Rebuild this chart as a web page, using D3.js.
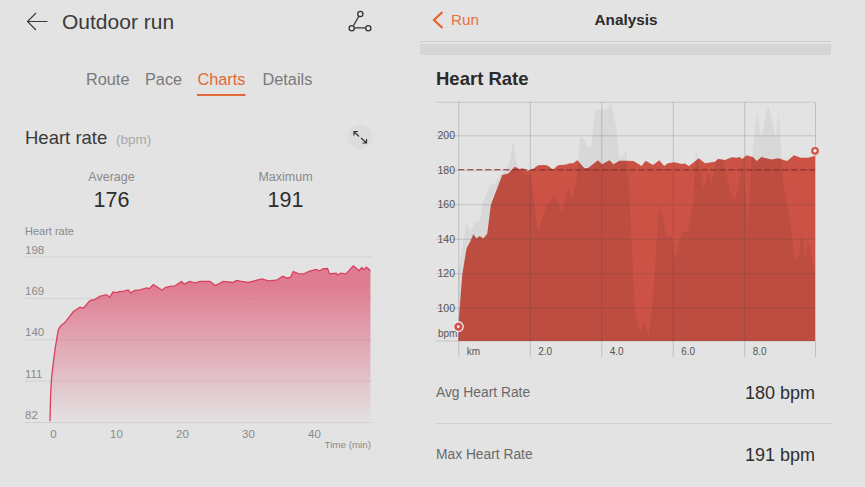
<!DOCTYPE html>
<html>
<head>
<meta charset="utf-8">
<script src="https://cdn.jsdelivr.net/npm/d3@7"></script>
<style>
  html, body { margin: 0; padding: 0; background: #e3e3e3; overflow: hidden; }
  svg { display: block; font-family: "Liberation Sans", Arial, sans-serif; }
  .domain { display: none; }
</style>
</head>
<body>
<div id="chart"></div>
<script>
// left chart: heart rate over time
const timeMin = [0,0.1,0.25,0.75,1.25,1.6,2.25,2.75,3.55,4.55,5.05,6.05,6.85,7.55,8.55,9.05,9.55,10.05,10.5,11.15,11.85,12.25,12.85,13.65,14.65,15.05,15.65,16.15,16.95,17.45,18.15,18.95,19.95,20.3,21.2,21.95,22.75,24.25,25.05,26.25,27.75,28.25,29.05,30.05,31.35,32.15,33.05,34.35,35.25,35.95,36.45,36.85,37.65,38.45,39.25,40.3,40.85,41.35,42.05,42.35,43.35,43.55,44.05,44.85,45.95,46.85,47.25,47.55,47.95,48.55];
const timeHr = [82.5,102,113.8,132.5,146.5,149.4,151.7,154.7,159.4,162.4,161.7,167.1,168,170,171.3,169.5,173.2,172.7,173.4,173.7,174.6,172.5,174.2,174.6,176,175.5,178.4,177,174.4,176.2,177,177.4,180.5,178.6,180.5,179.5,180.5,180.5,177.7,180.5,179.8,181.2,180.5,179.8,181.4,182.3,180.9,181.4,184.2,182.8,183.5,187.5,186,185.8,187.5,189,188,189.3,189.6,185.8,186.3,184.9,186.3,185.8,191.4,188,190.3,188.7,190.6,188];
const timeTicks = [0, 10, 20, 30, 40];
const leftHrTicks = [198, 169, 140, 111, 82];

// right chart: heart rate over distance, plus the grey profile behind it
const distKm = [0,0.11,0.23,0.33,0.42,0.51,0.6,0.7,0.81,0.91,1.07,1.23,1.4,1.58,1.7,1.81,1.91,2.09,2.23,2.42,2.51,2.65,2.79,3.02,3.12,3.21,3.33,3.53,3.63,3.91,4.02,4.23,4.34,4.51,4.66,4.9,5.13,5.24,5.45,5.62,5.76,5.86,6.06,6.25,6.34,6.45,6.57,6.73,6.9,7.18,7.27,7.46,7.65,7.79,7.88,7.94,8.07,8.25,8.35,8.48,8.76,8.95,9.2,9.39,9.58,9.79,9.98];
const distHr = [89,119,134.4,138.3,142.6,140.2,141.6,140.2,142.9,159.6,168.3,177,177.8,181.8,180.5,180.9,179.3,180.5,182.6,182.8,182.4,180,182.6,183,183.8,183.8,185.5,180.9,181,185.5,183.2,185.5,183.2,185.3,185.3,185.1,182.2,185.3,182.8,185.5,182.2,183.8,184.3,183.4,183.6,182.2,184.1,186.7,183.8,184.7,186.3,185.7,187.2,187,187.4,186.3,188.4,187.2,185.1,187.4,186,186.7,185.1,188.4,187,187,188.2];
const greyKm = [0,0.09,0.23,0.33,0.47,0.6,0.7,0.88,1.02,1.16,1.35,1.46,1.53,1.6,1.67,1.86,2.03,2.23,2.47,2.7,2.9,3.07,3.21,3.33,3.4,3.49,3.63,3.72,3.83,4.14,4.28,4.42,4.51,4.71,4.8,4.94,5.08,5.22,5.33,5.45,5.59,5.64,5.73,5.83,5.97,6.06,6.25,6.43,6.57,6.65,6.73,6.85,6.99,7.09,7.23,7.41,7.6,7.74,7.88,7.97,8.09,8.21,8.36,8.48,8.67,8.81,8.88,8.97,9.09,9.23,9.42,9.52,9.61,9.7,9.8,9.98];
const greyVal = [120.9,132.5,149.9,144.1,149.9,150.3,161.5,171.2,171.6,177,179.9,186.7,197.3,186.7,181.8,177,177,144.1,159.6,165.4,155.7,169.2,163.4,177,198.3,198.6,193.4,193.4,214.7,214.7,219.5,204,185.3,191.5,161.5,97.7,86,91.9,83.2,107.4,151.8,159.6,151.8,140.2,142.2,127.7,144.1,144.1,161.5,191.5,184.7,167.3,178.9,172.1,186.7,186.7,167.3,162.5,175,186.7,146,186.7,212.8,198.3,217.6,206,198.3,212.8,173.1,157.6,128.6,128.6,146,126.7,138.3,120.9];
const kmTicks = [0, 2, 4, 6, 8, 9.98];
const kmLabels = ["km", "2.0", "4.0", "6.0", "8.0", ""];
const rightHrTicks = [200, 180, 160, 140, 120, 100];
const avgLine = 180;
const maxHr = 191;

const svg = d3.select("#chart").append("svg").attr("width", 865).attr("height", 487);
const defs = svg.append("defs");

function label(x, y, str, size, color, anchor, weight) {
    return svg.append("text")
        .attr("x", x).attr("y", y)
        .attr("font-size", size)
        .attr("fill", color)
        .attr("text-anchor", anchor || "start")
        .attr("font-weight", weight || 400)
        .text(str);
}

// ---- left screen header ----
label(62, 29, "Outdoor run", 21, "#3a3a3a");
svg.append("path").attr("d", "M47.5 21.5H27.5M36 13l-8.5 8.5 8.5 8.5")
    .attr("fill", "none").attr("stroke", "#3a3a3a").attr("stroke-width", 1.2);
// route icon
svg.append("path").attr("d", "M354.5 27.8H365.5M353.5 25.5L359 16")
    .attr("fill", "none").attr("stroke", "#333").attr("stroke-width", 1.3);
[[351.7, 28.3], [360.3, 14], [368.3, 28.3]].forEach(c => {
    svg.append("circle").attr("cx", c[0]).attr("cy", c[1]).attr("r", 2.6)
        .attr("fill", "none").attr("stroke", "#333").attr("stroke-width", 1.3);
});

label(86, 85, "Route", 16.3, "#7a7a7a");
label(145, 85, "Pace", 16.3, "#7a7a7a");
label(197.5, 85, "Charts", 16.3, "#e0693a");
label(262.5, 85, "Details", 16.3, "#7a7a7a");
svg.append("rect").attr("x", 197).attr("y", 94).attr("width", 48.5).attr("height", 2).attr("fill", "#e0693a");

label(25, 144, "Heart rate", 18.5, "#3a3a3a");
label(116, 144, "(bpm)", 13.5, "#a8a8a8");
svg.append("circle").attr("cx", 360).attr("cy", 137).attr("r", 12.5).attr("fill", "#dcdcdc");
svg.append("path").attr("d", "M354 131.5L359 136.5M354 135.5V131.5H358M361 138L366.5 143M366.5 139V143H362.5")
    .attr("fill", "none").attr("stroke", "#333").attr("stroke-width", 1.2);

label(111.5, 181, "Average", 12.5, "#8a8a8a", "middle");
label(111.5, 207, "176", 21.5, "#2e2e2e", "middle");
label(285.5, 181, "Maximum", 12.5, "#8a8a8a", "middle");
label(285.5, 207, "191", 21.5, "#2e2e2e", "middle");

// ---- left chart ----
const xTime = d3.scaleLinear().domain([0, 40]).range([50, 314]);
const yLeft = d3.scaleLinear().domain([82, 198]).range([422, 256.5]);

const grad = defs.append("linearGradient")
    .attr("id", "hrFade")
    .attr("gradientUnits", "userSpaceOnUse")
    .attr("x1", 0).attr("x2", 0)
    .attr("y1", yLeft(178)).attr("y2", yLeft(82));
grad.append("stop").attr("offset", "0%").attr("stop-color", "#e07c92").attr("stop-opacity", 1);
grad.append("stop").attr("offset", "100%").attr("stop-color", "#e07c92").attr("stop-opacity", 0.02);

const timeIdx = d3.range(timeMin.length);

svg.append("path")
    .attr("fill", "url(#hrFade)")
    .attr("d", d3.area()
        .x(i => xTime(timeMin[i]))
        .y0(yLeft(82))
        .y1(i => yLeft(timeHr[i]))(timeIdx));

const leftY = svg.append("g")
    .attr("transform", "translate(25,0)")
    .call(d3.axisRight(yLeft).tickValues(leftHrTicks).tickSize(347).tickPadding(0));
leftY.selectAll("line").attr("stroke", "#8a8a8a").attr("stroke-opacity", 0.2);
leftY.selectAll("text")
    .attr("x", 0).attr("dy", -3.5)
    .attr("font-size", 11.5).attr("fill", "#8a8a8a")
    .attr("font-family", "Liberation Sans");

svg.append("path")
    .attr("fill", "none")
    .attr("stroke", "#d8405f")
    .attr("stroke-width", 1.3)
    .attr("d", d3.line()
        .x(i => xTime(timeMin[i]))
        .y(i => yLeft(timeHr[i]))(timeIdx));

const leftX = svg.append("g")
    .attr("transform", "translate(0,422)")
    .call(d3.axisBottom(xTime).tickValues(timeTicks).tickSize(0).tickPadding(8));
leftX.selectAll("text")
    .attr("dx", d => d === 0 ? 3 : 0)
    .attr("font-size", 11.5).attr("fill", "#8a8a8a")
    .attr("font-family", "Liberation Sans");

label(25, 235, "Heart rate", 11, "#8a8a8a");
label(371, 448, "Time (min)", 9.8, "#8a8a8a", "end");

// ---- right screen header ----
svg.append("path").attr("d", "M442.5 12L434 20l8.5 8")
    .attr("fill", "none").attr("stroke", "#e8602c").attr("stroke-width", 2.2);
label(451, 25, "Run", 15.2, "#e8703c");
label(626, 25, "Analysis", 15.3, "#2b2b2b", "middle", 700);
svg.append("rect").attr("x", 420).attr("y", 41).attr("width", 411).attr("height", 1).attr("fill", "#cfcfcf");
svg.append("rect").attr("x", 420).attr("y", 44).attr("width", 411).attr("height", 11).attr("fill", "#d5d5d6");
label(436, 85, "Heart Rate", 18.5, "#2b2b2b", "start", 700);

// ---- right chart ----
const xKm = d3.scaleLinear().domain([0, 9.98]).range([458.3, 815]);
const yRight = d3.scaleLinear().domain([100, 200]).range([307.7, 135.3]);
const baseY = 341;
const topY = 102.3;

const distIdx = d3.range(distKm.length);
const greyIdx = d3.range(greyKm.length);
const greyArea = d3.area()
    .x(i => xKm(greyKm[i]))
    .y0(baseY)
    .y1(i => yRight(greyVal[i]));
const hrArea = d3.area()
    .x(i => xKm(distKm[i]))
    .y0(baseY)
    .y1(i => yRight(distHr[i]));

defs.append("clipPath").attr("id", "hrClip").append("path").attr("d", hrArea(distIdx));

svg.append("path").attr("fill", "#d8d8d8").attr("d", greyArea(greyIdx));
svg.append("path").attr("fill", "#cc5246").attr("d", hrArea(distIdx));

// the grey profile darkens the red where they overlap
svg.append("path")
    .attr("fill", "#000").attr("fill-opacity", 0.07)
    .attr("clip-path", "url(#hrClip)")
    .attr("d", greyArea(greyIdx));

const rightY = svg.append("g")
    .attr("transform", "translate(455,0)")
    .call(d3.axisRight(yRight).tickValues(rightHrTicks).tickSize(360).tickPadding(0));
rightY.selectAll("line")
    .attr("x1", -19).attr("x2", 360)
    .attr("stroke", "#444").attr("stroke-opacity", 0.2);
rightY.selectAll("text")
    .attr("x", 0).attr("text-anchor", "end")
    .attr("font-size", 10.5).attr("fill", "#555")
    .attr("font-family", "Liberation Sans");

// plot top and bottom rules
[topY, baseY].forEach(y => {
    svg.append("line").attr("x1", 436).attr("x2", 815).attr("y1", y).attr("y2", y)
        .attr("stroke", "#444").attr("stroke-opacity", 0.18);
});

const rightX = svg.append("g")
    .attr("transform", "translate(0,357)")
    .call(d3.axisBottom(xKm).tickValues(kmTicks).tickFormat((d, i) => kmLabels[i]).tickSize(-(357 - topY)).tickPadding(0));
rightX.selectAll("line").attr("stroke", "#444").attr("stroke-opacity", 0.22);
rightX.selectAll("text")
    .attr("text-anchor", "start")
    .attr("x", 8).attr("y", -2).attr("dy", 0)
    .attr("font-size", 10).attr("fill", "#555")
    .attr("font-family", "Liberation Sans");

svg.append("line")
    .attr("x1", xKm(0)).attr("x2", xKm(9.98))
    .attr("y1", yRight(avgLine)).attr("y2", yRight(avgLine))
    .attr("stroke", "#8c2a24").attr("stroke-width", 1.1).attr("stroke-dasharray", "6 3");

label(438, 336.5, "bpm", 10, "#555");

// start and max markers
svg.append("circle").attr("cx", xKm(0)).attr("cy", yRight(distHr[0])).attr("r", 2.8)
    .attr("fill", "#f3efef").attr("stroke", "#d2534a").attr("stroke-width", 2.8);
svg.append("circle").attr("cx", xKm(0)).attr("cy", yRight(distHr[0])).attr("r", 4.9)
    .attr("fill", "none").attr("stroke", "#f0eeee").attr("stroke-width", 1.3);
svg.append("circle").attr("cx", xKm(9.98)).attr("cy", yRight(maxHr)).attr("r", 2.8)
    .attr("fill", "#f0eeee").attr("stroke", "#d2534a").attr("stroke-width", 2.2);

label(436, 397, "Avg Heart Rate", 13.8, "#6a6a6a");
label(815, 399, "180 bpm", 18, "#2e2e2e", "end");
svg.append("rect").attr("x", 436).attr("y", 423).attr("width", 395).attr("height", 1).attr("fill", "#d0d0d0");
label(436, 459, "Max Heart Rate", 13.8, "#6a6a6a");
label(815, 461, "191 bpm", 18, "#2e2e2e", "end");
</script>
</body>
</html>
